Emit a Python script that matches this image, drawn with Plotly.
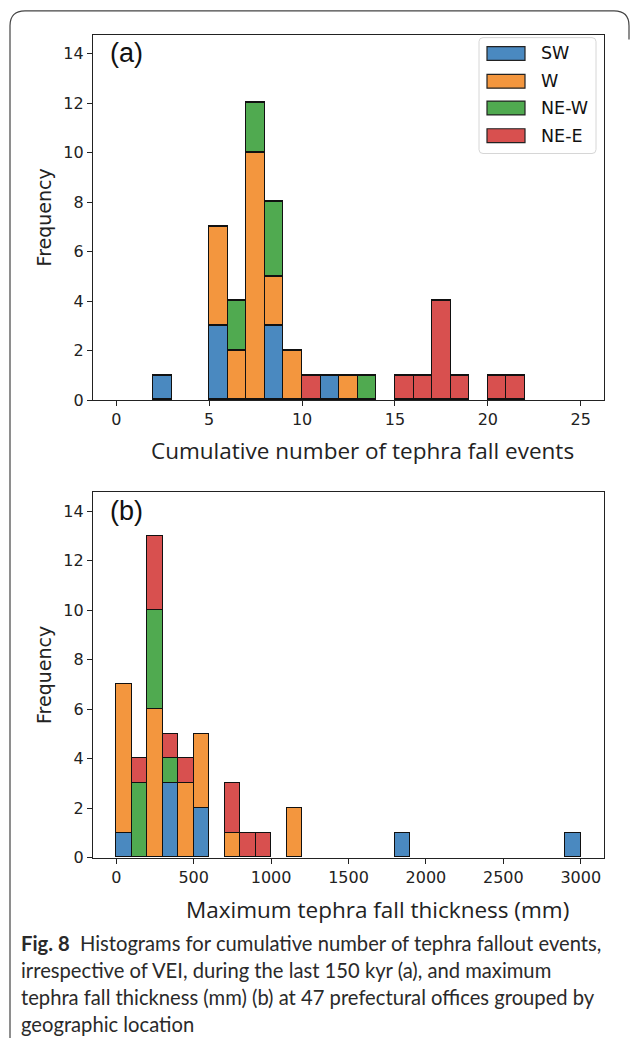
import plotly.graph_objects as go

W, H = 630, 1048

# Stacked histogram counts per region group
groups = ["SW", "W", "NE-W", "NE-E"]
colors = ["#4a89c0", "#f3963e", "#50aa50", "#d8504f"]

# (a) cumulative number of tephra fall events, bins of width 1 starting at 0
a_width = 1
a_sw = [0, 0, 1, 0, 0, 3, 0, 0, 3, 0, 0, 1, 0, 0, 0, 0, 0, 0, 0, 0, 0, 0, 0, 0, 0]
a_w = [0, 0, 0, 0, 0, 4, 2, 10, 2, 2, 0, 0, 1, 0, 0, 0, 0, 0, 0, 0, 0, 0, 0, 0, 0]
a_new = [0, 0, 0, 0, 0, 0, 2, 2, 3, 0, 0, 0, 0, 1, 0, 0, 0, 0, 0, 0, 0, 0, 0, 0, 0]
a_nee = [0, 0, 0, 0, 0, 0, 0, 0, 0, 0, 1, 0, 0, 0, 0, 1, 1, 4, 1, 0, 1, 1, 0, 0, 0]

# (b) maximum tephra fall thickness (mm), bins of width 100 starting at 0
b_width = 100
b_sw = [1, 0, 0, 3, 0, 2, 0, 0, 0, 0, 0, 0, 0, 0, 0, 0, 0, 0, 1, 0, 0, 0, 0, 0, 0, 0, 0, 0, 0, 1]
b_w = [6, 0, 6, 0, 3, 3, 0, 1, 0, 0, 0, 2, 0, 0, 0, 0, 0, 0, 0, 0, 0, 0, 0, 0, 0, 0, 0, 0, 0, 0]
b_new = [0, 3, 4, 1, 0, 0, 0, 0, 0, 0, 0, 0, 0, 0, 0, 0, 0, 0, 0, 0, 0, 0, 0, 0, 0, 0, 0, 0, 0, 0]
b_nee = [0, 1, 3, 1, 1, 0, 0, 2, 1, 1, 0, 0, 0, 0, 0, 0, 0, 0, 0, 0, 0, 0, 0, 0, 0, 0, 0, 0, 0, 0]

a_ticks = [0, 5, 10, 15, 20, 25]
b_ticks = [0, 500, 1000, 1500, 2000, 2500, 3000]
y_ticks = [0, 2, 4, 6, 8, 10, 12, 14]

caption_lines = [
    "<b>Fig. 8</b>  Histograms for cumulative number of tephra fallout events,",
    "irrespective of VEI, during the last 150 kyr (a), and maximum",
    "tephra fall thickness (mm) (b) at 47 prefectural offices grouped by",
    "geographic location",
]


def px(x):
    return x / W


def py(y):
    return 1 - y / H


fig = go.Figure()


def add_hist(series, width, xaxis, yaxis):
    for name, counts, color in zip(groups, series, colors):
        xs, ys = [], []
        for i, c in enumerate(counts):
            if c:
                xs.append(i * width + width / 2)
                ys.append(c)
        fig.add_trace(go.Bar(
            x=xs, y=ys, width=width, name=name, xaxis=xaxis, yaxis=yaxis,
            marker=dict(color=color, line=dict(color="#111111", width=1.4)),
            showlegend=False, hoverinfo="x+y+name",
        ))


add_hist([a_sw, a_w, a_new, a_nee], a_width, "x", "y")
add_hist([b_sw, b_w, b_new, b_nee], b_width, "x2", "y2")

axis_common = dict(
    showline=True, linecolor="#222222", linewidth=1.3, mirror=True,
    ticks="outside", ticklen=5, tickwidth=1.1, tickcolor="#222222",
    showgrid=False, zeroline=False,
    tickfont=dict(family="DejaVu Sans", size=16, color="#222222"),
)

x_dom = [px(93), px(604)]
fig.update_layout(
    width=W, height=H,
    margin=dict(l=0, r=0, t=0, b=0),
    paper_bgcolor="white", plot_bgcolor="white",
    barmode="stack", bargap=0,
    xaxis=dict(domain=x_dom, anchor="y", range=[-1.25, 26.25],
               tickvals=a_ticks, **axis_common),
    yaxis=dict(domain=[py(404), py(35)], anchor="x", range=[0, 14.76],
               tickvals=y_ticks, **axis_common),
    xaxis2=dict(domain=x_dom, anchor="y2", range=[-150, 3150],
                tickvals=b_ticks, **axis_common),
    yaxis2=dict(domain=[py(866), py(497)], anchor="x2", range=[0, 14.76],
                tickvals=y_ticks, **axis_common),
)

ann = []
title_font = dict(family="Open Sans", size=22.5, color="#222222")
# axis titles
ann.append(dict(text="Frequency", x=px(44), y=py(219.5), textangle=-90,
                font=dict(family="DejaVu Sans", size=19, color="#222222")))
ann.append(dict(text="Frequency", x=px(44), y=py(681.5), textangle=-90,
                font=dict(family="DejaVu Sans", size=19, color="#222222")))
ann.append(dict(text="Cumulative number of tephra fall events", x=px(362), y=py(455),
                font=title_font))
ann.append(dict(text="Maximum tephra fall thickness (mm)", x=px(377), y=py(918),
                font=title_font))
# panel labels
panel_font = dict(family="Liberation Sans", size=27, color="#111111")
ann.append(dict(text="(a)", x=px(108), y=py(54), xanchor="left", font=panel_font))
ann.append(dict(text="(b)", x=px(108), y=py(516), xanchor="left", font=panel_font))

# caption
for i, line in enumerate(caption_lines):
    ann.append(dict(text=line, x=px(19), y=py(952 + 27.2 * i), xanchor="left",
                    font=dict(family="Lato", size=20.2, color="#2a2a2a")))

for a in ann:
    a.setdefault("xref", "paper")
    a.setdefault("yref", "paper")
    a.setdefault("showarrow", False)
    a.setdefault("yanchor", "middle")
    a.setdefault("xanchor", "center")
fig.update_layout(annotations=ann)


def rounded_rect(x0, y0, x1, y1, r):
    # pixel-space rounded rectangle converted to paper coordinates
    pts = (
        f"M {px(x0 + r)},{py(y0)} L {px(x1 - r)},{py(y0)} "
        f"Q {px(x1)},{py(y0)} {px(x1)},{py(y0 + r)} "
        f"L {px(x1)},{py(y1 - r)} Q {px(x1)},{py(y1)} {px(x1 - r)},{py(y1)} "
        f"L {px(x0 + r)},{py(y1)} Q {px(x0)},{py(y1)} {px(x0)},{py(y1 - r)} "
        f"L {px(x0)},{py(y0 + r)} Q {px(x0)},{py(y0)} {px(x0 + r)},{py(y0)} Z"
    )
    return pts


shapes = []
# legend frame and patches
shapes.append(dict(type="path", xref="paper", yref="paper",
                   path=rounded_rect(479, 38, 596, 155, 4),
                   line=dict(color="#d6d6d6", width=1), fillcolor="rgba(255,255,255,0.85)"))
leg_y = [54, 82, 109, 137]
for name, color, yy in zip(groups, colors, leg_y):
    shapes.append(dict(type="rect", xref="paper", yref="paper",
                       x0=px(487), x1=px(525), y0=py(yy - 7), y1=py(yy + 7),
                       fillcolor=color, line=dict(color="#222222", width=1.2)))
    ann_item = dict(text=name, x=px(539), y=py(yy), xref="paper", yref="paper",
                    showarrow=False, xanchor="left", yanchor="middle",
                    font=dict(family="DejaVu Sans", size=17.5, color="#111111"))
    fig.add_annotation(**ann_item)

# outer frame, open at the bottom
frame = (
    f"M {px(10)},{py(1048)} L {px(10)},{py(26)} Q {px(10)},{py(11)} {px(25)},{py(11)} "
    f"L {px(614)},{py(11)} Q {px(629)},{py(11)} {px(629)},{py(26)} L {px(629)},{py(40)}"
)
shapes.append(dict(type="path", xref="paper", yref="paper", path=frame,
                   line=dict(color="#444444", width=1.2)))
fig.update_layout(shapes=shapes)

fig.write_html("out.html")
